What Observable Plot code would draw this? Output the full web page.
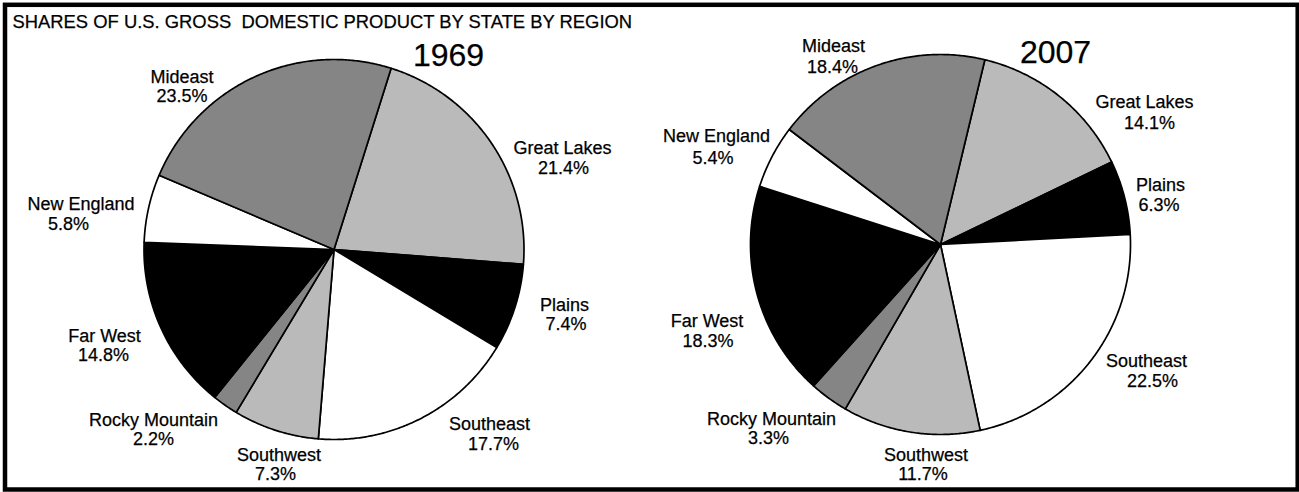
<!DOCTYPE html>
<html>
<head>
<meta charset="utf-8">
<script src="https://cdn.jsdelivr.net/npm/d3@7"></script>
<script src="https://cdn.jsdelivr.net/npm/@observablehq/plot@0.6"></script>
<style>
html, body { margin: 0; padding: 0; background: #fff; }
svg text { white-space: pre; }
</style>
</head>
<body>
<div id="chart"></div>
<script>
// ---- data ----
const regions = ["Great Lakes", "Plains", "Southeast", "Southwest", "Rocky Mountain", "Far West", "New England", "Mideast"];
const share1969 = [21.4, 7.4, 17.7, 7.3, 2.2, 14.8, 5.8, 23.5];
const share2007 = [14.1, 6.3, 22.5, 11.7, 3.3, 18.3, 5.4, 18.4];
const years = ["1969", "2007"];
const title = "SHARES OF U.S. GROSS  DOMESTIC PRODUCT BY STATE BY REGION";

// ---- styles ----
const regionFills = ["#bababa", "#000000", "#ffffff", "#bababa", "#858585", "#000000", "#ffffff", "#858585"];

// ---- layout (pixels) ----
const pieLayout = [
  {cx: 333.5, cy: 249, r: 190, start: 17.5, yearX: 448, yearY: 65},
  {cx: 940, cy: 244, r: 190, start: 13.5, yearX: 1055, yearY: 62.5}
];
// [nameX, nameBaseline, pctX, pctBaseline] per region, in regions order
const labelLayout = [
  [[562, 153, 563, 173], [564, 310, 565.5, 329.5], [489, 429.5, 493, 449.5], [278.5, 460.5, 275, 479],
   [153, 425, 153, 444], [104, 341.5, 103, 360.5], [80.5, 209, 68, 229], [181.5, 82.5, 181.5, 101.5]],
  [[1144, 107, 1149, 128], [1160, 190, 1158.5, 210.5], [1146, 366.5, 1152, 386.5], [925.5, 460, 922.5, 479],
   [771, 424.5, 768, 443.5], [706.5, 326.5, 707.5, 346.5], [716, 141.5, 712.5, 163], [833, 51.5, 832, 72.5]]
];

const series = [share1969, share2007];
const points = [];
const labels = [];
series.forEach((vals, p) => {
  const L = pieLayout[p];
  const total = d3.sum(vals);
  let a = L.start;
  vals.forEach((v, i) => {
    const a0 = a, a1 = a + v / total * 360;
    a = a1;
    const key = years[p] + "-" + regions[i];
    points.push({key, region: regions[i], x: L.cx, y: L.cy});
    const n = Math.max(2, Math.ceil((a1 - a0) / 0.5));
    for (let k = 0; k <= n; k++) {
      const t = (a0 + (a1 - a0) * k / n) * Math.PI / 180;
      points.push({key, region: regions[i], x: L.cx + L.r * Math.sin(t), y: L.cy - L.r * Math.cos(t)});
    }
    const lab = labelLayout[p][i];
    labels.push({name: regions[i], pct: v.toFixed(1) + "%", nx: lab[0], ny: lab[1], px: lab[2], py: lab[3]});
  });
});

const font = "'Liberation Sans', Arial, Helvetica, sans-serif";
const textStyle = {lineAnchor: "bottom", fill: "#000", stroke: "#000", strokeWidth: 0.25};

const chart = Plot.plot({
  width: 1299,
  height: 492,
  margin: 0,
  style: {fontFamily: font, background: "#fff", color: "#000"},
  x: {domain: [0, 1299], range: [0, 1299], axis: null},
  y: {domain: [0, 492], range: [0, 492], axis: null},
  color: {domain: regions, range: regionFills},
  marks: [
    Plot.frame({stroke: "#000", strokeWidth: 4.5, insetLeft: 4.5, insetTop: 4.3, insetRight: 1.8, insetBottom: 3}),
    Plot.line(points, {x: "x", y: "y", z: "key", fill: "region", stroke: "#000", strokeWidth: 1.7,
      curve: "linear-closed", strokeLinejoin: "round"}),
    Plot.text(labels, {x: "nx", y: "ny", text: "name", fontSize: 18, ...textStyle}),
    Plot.text(labels, {x: "px", y: "py", text: "pct", fontSize: 18, ...textStyle}),
    Plot.text(years, {x: (d, i) => pieLayout[i].yearX, y: (d, i) => pieLayout[i].yearY, text: d => d,
      fontSize: 32, ...textStyle}),
    Plot.text([title], {x: 12, y: 27, text: d => d, textAnchor: "start", fontSize: 18.4, ...textStyle})
  ]
});
document.getElementById("chart").append(chart);
</script>
</body>
</html>
